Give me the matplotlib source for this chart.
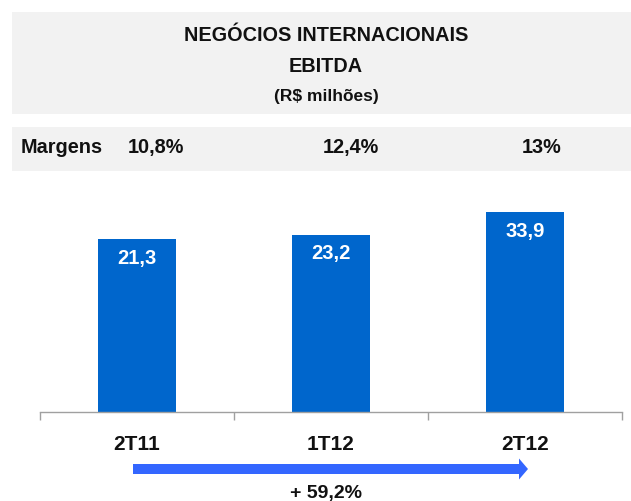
import matplotlib
matplotlib.use("Agg")
import matplotlib.pyplot as plt
from matplotlib.patches import Rectangle, FancyArrow

categories = ["2T11", "1T12", "2T12"]
ebitda = [21.3, 23.2, 33.9]
value_labels = ["21,3", "23,2", "33,9"]
margins = ["10,8%", "12,4%", "13%"]
growth_label = "+ 59,2%"
title_lines = ["NEGÓCIOS INTERNACIONAIS", "EBITDA"]
subtitle = "(R$ milhões)"

W, H = 631, 502
DPI = 100
plt.rcParams['font.family'] = ['Liberation Sans', 'DejaVu Sans']

fig = plt.figure(figsize=(W / DPI, H / DPI), dpi=DPI)
fig.patch.set_facecolor("white")

def px(x, y):
    """pixel (top-left origin) -> inches for dpi_scale_trans"""
    return x / DPI, (H - y) / DPI

tr = fig.dpi_scale_trans
band = "#F2F2F2"
txt = "#111111"
# title band
x0, y0 = px(12, 115)
fig.add_artist(Rectangle((x0, y0), (W - 12) / DPI, 102 / DPI, transform=tr,
                         facecolor=band, edgecolor="none", zorder=0))
# margins band
x0, y0 = px(12, 172)
fig.add_artist(Rectangle((x0, y0), (W - 12) / DPI, 44 / DPI, transform=tr,
                         facecolor=band, edgecolor="none", zorder=0))

tx, ty = px(326, 36)
fig.text(tx, ty, title_lines[0], transform=tr, ha="center", va="center",
         fontsize=14.3, fontweight="bold", color=txt)
tx, ty = px(326, 67)
fig.text(tx, ty, title_lines[1], transform=tr, ha="center", va="center",
         fontsize=14.3, fontweight="bold", color=txt)
tx, ty = px(326, 97)
fig.text(tx, ty, subtitle, transform=tr, ha="center", va="center",
         fontsize=12.5, fontweight="bold", color=txt)

tx, ty = px(21, 148)
fig.text(tx, ty, "Margens", transform=tr, ha="left", va="center",
         fontsize=14.3, fontweight="bold", color=txt)

# axes
ax_left, ax_right = 40, 622
ax_top, ax_bottom = 190, 413
ax = fig.add_axes([ax_left / W, (H - ax_bottom) / H,
                   (ax_right - ax_left) / W, (ax_bottom - ax_top) / H])
ax.set_facecolor("none")

base = -59.4
ax.set_ylim(base, base + (ax_bottom - ax_top) / 2.143)
ax.set_xlim(-0.5, len(categories) - 0.5)
xs = list(range(len(categories)))
heights = [v - base for v in ebitda]
ax.bar(xs, heights, bottom=base, width=0.4, color="#0066CC",
       edgecolor="none", zorder=2)

for x, v, lab in zip(xs, ebitda, value_labels):
    ax.annotate(lab, (x, v), xytext=(0, -18), textcoords="offset pixels",
                ha="center", va="center", color="white",
                fontsize=14.5, fontweight="bold")

margin_x = [156, 351, 542]
for mx, m in zip(margin_x, margins):
    tx, ty = px(mx, 148)
    fig.text(tx, ty, m, transform=tr, ha="center", va="center",
             fontsize=14.3, fontweight="bold", color=txt)

for s in ["top", "right", "left"]:
    ax.spines[s].set_visible(False)
ax.spines["bottom"].set_color("#A0A0A0")
ax.spines["bottom"].set_linewidth(1.0)
ax.set_yticks([])
ax.set_xticks(xs)
ax.set_xticklabels(categories, fontsize=15, fontweight="bold", color=txt)
ax.tick_params(axis="x", which="major", length=0, pad=16)
ax.set_xticks([-0.5, 0.5, 1.5, 2.5], minor=True)
ax.tick_params(axis="x", which="minor", length=6, color="#A0A0A0", width=1.0)

# growth arrow
ax0, ay = px(133, 470)
ax1, _ = px(528, 470)
fig.add_artist(FancyArrow(ax0, ay, ax1 - ax0, 0, width=10 / DPI,
                          head_width=21 / DPI, head_length=9 / DPI,
                          length_includes_head=True, transform=tr,
                          facecolor="#3366FF", edgecolor="none"))
tx, ty = px(326, 494)
fig.text(tx, ty, growth_label, transform=tr, ha="center", va="center",
         fontsize=14, fontweight="bold", color=txt)

fig.savefig("out.png", dpi=DPI)
